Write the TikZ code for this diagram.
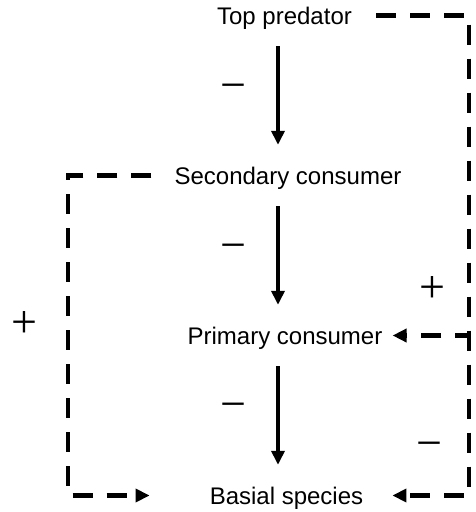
\documentclass[tikz,border=0pt]{standalone}
\usepackage{fontspec}
\setmainfont{Liberation Sans}
\newfontfamily\signfont{Liberation Serif}
\usetikzlibrary{arrows.meta}
\begin{document}
\begin{tikzpicture}[x=1pt,y=1pt,line join=miter,>={Triangle[length=14pt,width=13pt]}]
	\tikzset{level/.style={inner xsep=10pt,inner ysep=22pt,text height=17pt,text depth=0pt,font=\fontsize{24}{28}\selectfont},
		effect/.style={line width=4pt,->},
		feedback/.style={line width=4.5pt,dash pattern=on 20pt off 14pt,->},
		sign/.style={inner sep=0pt,text height=0.5em,text depth=0pt,font=\signfont\fontsize{46}{50}\selectfont}}
	\useasboundingbox (0,0) rectangle (475,-512);
	\coordinate (spine) at (278,0);
	\node[level] (top) at (284.5,-15.5) {Top predator};
	\node[level] (second) at (288,-175.5) {Secondary consumer};
	\node[level] (primary) at (285,-335.5) {Primary consumer};
	\node[level] (basal) at (286.5,-495.5) {Basial species};
	\coordinate (rb) at (469,-495.5);
	\coordinate (lb) at (68,-495.5);
	% top-down effects
	\draw[effect] (top.south -| spine) -- (second.north -| spine);
	\draw[effect] (second.south -| spine) -- (primary.north -| spine);
	\draw[effect] (primary.south -| spine) -- (basal.north -| spine);
	\node[sign] (m1) at (233.5,-98) {−};
	\node[sign] (m2) at (233.5,-258) {−};
	\node[sign] (m3) at (233.5,-417) {−};
	% indirect effects
	\draw[feedback,dash phase=20pt] (top.east) -| (rb) -- (basal.east) [shorten >=19pt];
	\draw[feedback,dash phase=6pt] (rb |- primary.east) -- (primary.east);
	\draw[feedback,dash phase=21pt,shorten >=50pt] (second.west) -| (lb) -- (basal.west);
	\node[sign] (p1) at (432,-300) {+};
	\node[sign] (m4) at (429.5,-456) {−};
	\node[sign] (p2) at (24,-335) {+};
\end{tikzpicture}
\end{document}
